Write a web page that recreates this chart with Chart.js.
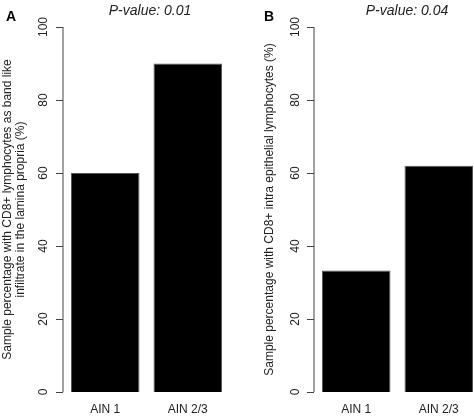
<!DOCTYPE html>
<html>
<head>
<script src="https://cdn.jsdelivr.net/npm/chart.js@4"></script>
<style>
body{margin:0;width:474px;height:418px;overflow:hidden;background:#fff;position:relative}
canvas{position:absolute;top:0}
</style>
</head>
<body>
<div id="wa" style="position:absolute;left:0;top:0;width:237px;height:418px"><canvas id="chartA"></canvas></div>
<div id="wb" style="position:absolute;left:237px;top:0;width:250px;height:418px"><canvas id="chartB"></canvas></div>
<script>
const categories = ['AIN 1', 'AIN 2/3'];
const bandLikeValues = [60, 90];
const intraEpithelialValues = [33.3, 62];
const yTicks = [0, 20, 40, 60, 80, 100];

const FONT = '"Liberation Sans", Arial, sans-serif';

function rAxisPlugin(opts){
    return {
        id: 'raxis',
        afterDraw(chart){
            const ctx = chart.ctx;
            const y = chart.scales.y, x = chart.scales.x;
            const left = chart.chartArea.left - 1;
            ctx.save();
            ctx.strokeStyle = '#444';
            ctx.lineWidth = 1;
            ctx.beginPath();
            ctx.moveTo(left, y.getPixelForValue(0));
            ctx.lineTo(left, y.getPixelForValue(100));
            yTicks.forEach(v => {
                const p = Math.round(y.getPixelForValue(v)) + 0.5;
                ctx.moveTo(left, p);
                ctx.lineTo(left - 7, p);
            });
            ctx.stroke();
            ctx.fillStyle = '#222';
            ctx.font = '12px ' + FONT;
            ctx.textAlign = 'center';
            ctx.textBaseline = 'middle';
            yTicks.forEach(v => {
                ctx.save();
                ctx.translate(opts.tickX, y.getPixelForValue(v));
                ctx.rotate(-Math.PI / 2);
                ctx.fillText(String(v), 0, 0);
                ctx.restore();
            });
            categories.forEach((c, i) => {
                ctx.fillText(c, x.getPixelForValue(i), 410);
            });
            // y title
            ctx.save();
            const midY = (y.getPixelForValue(0) + y.getPixelForValue(100)) / 2;
            opts.yTitle.forEach((line, i) => {
                ctx.save();
                ctx.translate(opts.titleX[i], midY);
                ctx.rotate(-Math.PI / 2);
                ctx.fillText(line, 0, 0);
                ctx.restore();
            });
            ctx.restore();
            ctx.font = 'italic 14px ' + FONT;
            ctx.fillText(opts.pValue, opts.pX, 11);
            ctx.font = 'bold 14px ' + FONT;
            ctx.fillStyle = '#000';
            ctx.fillText(opts.letter, opts.letterX, 17);
            ctx.restore();
        }
    };
}

function generateChart(id, dataArray, padLeft, padRight, opts){
    return new Chart(document.getElementById(id), {
        type: 'bar',
        data: {
            labels: categories,
            datasets: [{
                data: dataArray,
                backgroundColor: '#000',
                borderColor: '#555',
                borderWidth: 1,
                barPercentage: 0.83,
                categoryPercentage: 1
            }]
        },
        options: {
            responsive: true,
            maintainAspectRatio: false,
            animation: false,
            layout: {padding: {left: padLeft, right: padRight, top: 27, bottom: 26}},
            plugins: {legend: {display: false}, tooltip: {enabled: false}},
            scales: {
                x: {display: false},
                y: {display: false, min: 0, max: 100}
            }
        },
        plugins: [rAxisPlugin(opts)]
    });
}

generateChart('chartA', bandLikeValues, 64, 8, {
    tickX: 44, titleX: [8, 21],
    yTitle: ['Sample percentage with CD8+ lymphocytes as band like', 'infiltrate in the lamina propria (%)'],
    pValue: 'P-value: 0.01', pX: 150, letter: 'A', letterX: 11
});
generateChart('chartB', intraEpithelialValues, 78, 7, {
    tickX: 59, titleX: [33],
    yTitle: ['Sample percentage with CD8+ intra epithelial lymphocytes (%)'],
    pValue: 'P-value: 0.04', pX: 170, letter: 'B', letterX: 32
});
</script>
</body>
</html>
